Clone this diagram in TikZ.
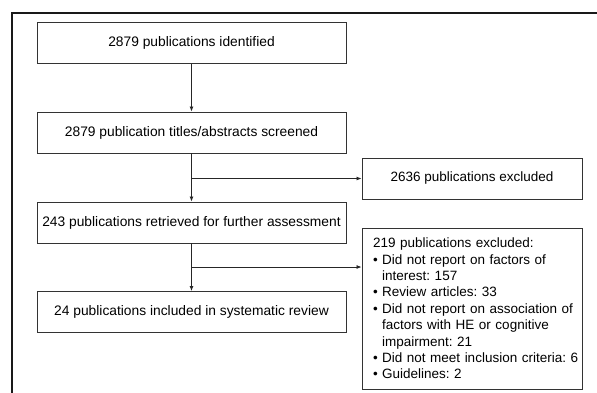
\documentclass[tikz,border=0pt]{standalone}
\usepackage{fontspec}
\setmainfont{Liberation Sans}
\usetikzlibrary{arrows.meta}

\tikzstyle{stagebox}=[draw=black!80, line width=0.9, minimum width=309, minimum height=41, inner sep=0, font=\fontsize{13.8}{16.3}\selectfont]
\tikzstyle{exclbox}=[draw=black!80, line width=0.9, minimum width=220, inner sep=0, font=\fontsize{13.5}{16.4}\selectfont\frenchspacing]
\tikzstyle{flowline}=[black!85, line width=0.8, -{Latex[length=5,width=4]}]
\newcommand{\itemline}{\textbullet\ }
\newcommand{\itemcont}{\phantom{\textbullet\ }}

\begin{document}
\begin{tikzpicture}[x=1pt, y=-1pt]
  \clip (0,0) rectangle (597,392);
  \draw[black!90, line width=1.2] (12,13) rectangle (620,420);
  % main stages
  \node[stagebox] (S1) at (191.5,43) {2879 publications identified};
  \node[stagebox] (S2) at (191.5,132.5) {2879 publication titles/abstracts screened};
  \node[stagebox] (S3) at (191.5,222.5) {243 publications retrieved for further assessment};
  \node[stagebox] (S4) at (191.5,312) {24 publications included in systematic review};
  % exclusions
  \node[exclbox, minimum height=41] (E1) at (472,178.5) {2636 publications excluded};
  \node[exclbox, minimum height=161, text width=220, align=left] (E2) at (472,308.5) {\leftskip=11pt \rightskip=-8pt plus 1fil 219 publications excluded:\\
    \itemline Did not report on factors of\\
    \itemcont interest: 157\\
    \itemline Review articles: 33\\
    \itemline Did not report on association of\\
    \itemcont factors with HE or cognitive\\
    \itemcont impairment: 21\\
    \itemline Did not meet inclusion criteria: 6\\
    \itemline Guidelines: 2\par};
  \coordinate (B1) at (S2.south |- E1.west);
  \coordinate (B2) at (191.5,267);
  \draw[flowline] (S1) -- (S2);
  \draw[flowline] (S2) -- (S3);
  \draw[flowline] (S3) -- (S4);
  \draw[flowline] (B1) -- (E1.west);
  \draw[flowline] (B2) -- (B2 -| E2.west);
\end{tikzpicture}
\end{document}
